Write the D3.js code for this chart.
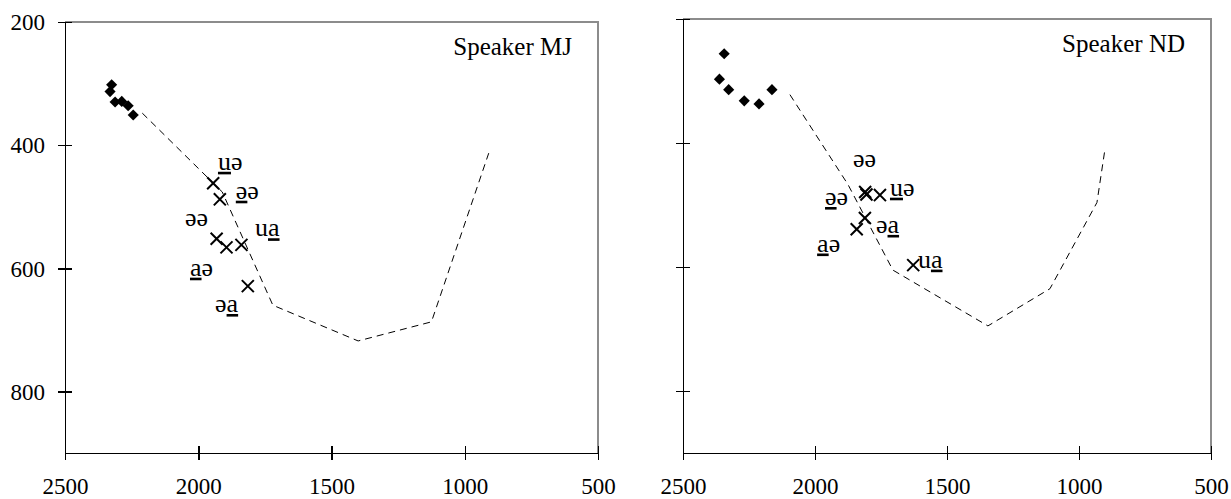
<!DOCTYPE html>
<html lang="en">
<head>
<meta charset="utf-8">
<title>vowel plots</title>
<script src="https://cdn.jsdelivr.net/npm/d3@7"></script>
<style>
  body { margin: 0; background: #fff; }
  svg { display: block; }
  .axis path, .axis line { stroke: #000; stroke-width: 1.5; fill: none; shape-rendering: crispEdges; }
  .frame { stroke: #8c8c8c; stroke-width: 1.5; fill: none; shape-rendering: crispEdges; }
  .vline { fill: none; stroke: #000; stroke-width: 1; stroke-dasharray: 7,5; }
  .cross { fill: none; stroke: #000; stroke-width: 2; }
</style>
</head>
<body>
<script>
// axis ticks (F2 on x, reversed; F1 on y, reversed)
const xTicks = [2500, 2000, 1500, 1000, 500];
const yTicks = [200, 400, 600, 800];
const xDomain = [2500, 500];
const yDomain = [200, 900];

// Speaker MJ
const mjDiamonds = [[2325, 302], [2331, 313], [2312, 330], [2287, 329], [2263, 336], [2244, 351]];
const mjCrosses = [[1944, 462], [1919, 488], [1931, 552], [1894, 566], [1838, 562], [1814, 629]];
const mjOutline = [[2210, 348], [1910, 476], [1720, 660], [1400, 718], [1125, 687], [910, 413]];
// label: [text, underlined char index (-1 none), F2, F1]
const mjLabels = [
  ["uə", 0, 1926, 440],
  ["əə", 0, 1859, 487],
  ["əə", -1, 2050, 531],
  ["ua", 1, 1787, 548],
  ["aə", 0, 2031, 612],
  ["əa", 1, 1937, 671]
];

// Speaker ND
const ndDiamonds = [[2344, 256], [2362, 297], [2327, 314], [2268, 332], [2212, 337], [2163, 314]];
const ndCrosses = [[1810, 479], [1805, 483], [1754, 484], [1811, 521], [1842, 539], [1628, 597]];
const ndOutline = [[2095, 322], [1875, 467], [1705, 605], [1345, 695], [1110, 635], [932, 496], [902, 411]];
const ndLabels = [
  ["əə", -1, 1856, 438],
  ["uə", 0, 1716, 485],
  ["əə", 0, 1962, 500],
  ["əa", 1, 1769, 545],
  ["aə", 0, 1992, 575],
  ["ua", 1, 1610, 601]
];

var serif = '"Liberation Serif", "DejaVu Serif", serif';

var svg = d3.select("body").append("svg")
  .attr("width", 1231)
  .attr("height", 499);

drawPanel({left: 65, right: 598, top: 22, bottom: 453, name: "Speaker MJ", yLabels: true,
           diamonds: mjDiamonds, crosses: mjCrosses, outline: mjOutline, labels: mjLabels});
drawPanel({left: 683, right: 1211, top: 19, bottom: 453, name: "Speaker ND", yLabels: false,
           diamonds: ndDiamonds, crosses: ndCrosses, outline: ndOutline, labels: ndLabels});

function drawPanel(p) {
  var width = p.right - p.left,
      height = p.bottom - p.top;

  var x = d3.scaleLinear().domain(xDomain).range([0, width]);
  var y = d3.scaleLinear().domain(yDomain).range([0, height]);

  var g = svg.append("g").attr("transform", "translate(" + p.left + "," + p.top + ")");

  // grey top and right frame
  g.append("path").attr("class", "frame")
    .attr("d", "M0,0H" + width + "V" + height);

  // x axis, ticks crossing the line
  var xa = g.append("g").attr("class", "axis")
    .attr("transform", "translate(0," + height + ")")
    .call(d3.axisBottom(x).tickValues(xTicks).tickSize(7).tickSizeOuter(0).tickFormat(d3.format("d")));
  xa.attr("font-family", null).attr("font-size", null);
  xa.selectAll(".tick line").attr("y1", -7);
  xa.selectAll(".tick text")
    .attr("y", 41).attr("dy", 0)
    .attr("fill", "#000")
    .style("font-family", serif)
    .style("font-size", "23px");

  // y axis
  var ya = g.append("g").attr("class", "axis")
    .call(d3.axisLeft(y).tickValues(yTicks).tickSize(7).tickSizeOuter(0).tickFormat(d3.format("d")));
  ya.attr("font-family", null).attr("font-size", null);
  ya.selectAll(".tick line").attr("x1", 7);
  if (p.yLabels) {
    ya.selectAll(".tick text")
      .attr("x", -20).attr("dy", "0.34em")
      .attr("fill", "#000")
      .style("font-family", serif)
      .style("font-size", "23px");
  } else {
    ya.selectAll(".tick text").remove();
  }

  // dashed vowel-space outline
  g.append("path").attr("class", "vline")
    .attr("d", d3.line().x(function(d) { return x(d[0]); }).y(function(d) { return y(d[1]); })(p.outline));

  // diamonds (long vowels)
  g.selectAll(".dia")
    .data(p.diamonds)
    .enter().append("path")
    .attr("class", "dia")
    .attr("d", d3.symbol().type(d3.symbolSquare).size(62))
    .attr("transform", function(d) { return "translate(" + x(d[0]) + "," + y(d[1]) + ") rotate(45)"; })
    .style("fill", "#000");

  // crosses (diphthongs)
  g.selectAll(".cross")
    .data(p.crosses)
    .enter().append("path")
    .attr("class", "cross")
    .attr("d", d3.symbol().type(d3.symbolTimes).size(96))
    .attr("transform", function(d) { return "translate(" + x(d[0]) + "," + y(d[1]) + ")"; });

  // diphthong labels, one letter underlined
  var lab = g.selectAll(".lab")
    .data(p.labels)
    .enter().append("text")
    .attr("class", "lab")
    .attr("x", function(d) { return x(d[2]); })
    .attr("y", function(d) { return y(d[3]); })
    .style("font-family", serif)
    .style("font-size", "26px");
  lab.each(function(d) {
    var t = d3.select(this);
    Array.from(d[0]).forEach(function(ch, i) {
      t.append("tspan")
        .style("text-decoration", i === d[1] ? "underline" : "none")
        .text(ch);
    });
  });

  // speaker name
  g.append("text")
    .attr("x", width - 26)
    .attr("y", 55 - p.top + (p.top - 22))
    .attr("text-anchor", "end")
    .style("font-family", serif)
    .style("font-size", "25px")
    .text(p.name);
}
</script>
</body>
</html>
